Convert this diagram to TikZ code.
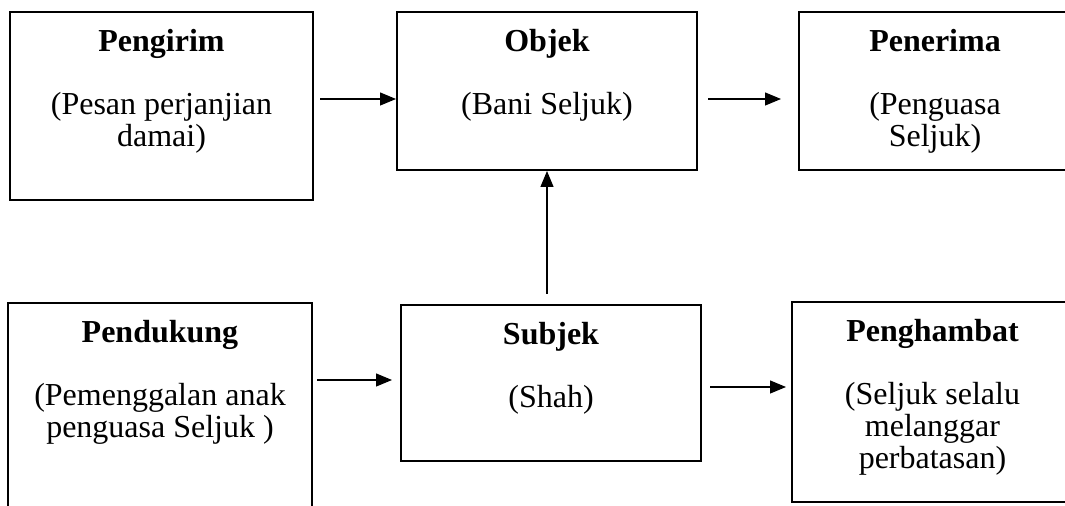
\documentclass[tikz,border=0pt]{standalone}
\usepackage{fontspec}
\setmainfont{Liberation Serif}
\usetikzlibrary{arrows.meta,calc}
\tikzset{
  box/.style={draw, line width=1pt, rectangle, inner sep=0pt},
  txt/.style={inner sep=0pt, anchor=base, font=\fontsize{16}{16}\selectfont},
  arr/.style={line width=0.6pt, -{Triangle[length=8pt,width=6.5pt]}}
}
\newcommand{\boxtext}[2]{\begin{tabular}[t]{@{}c@{}}\textbf{#1}\\[15.5pt]#2\end{tabular}}
\begin{document}
\begin{tikzpicture}[x=0.5pt,y=-0.5pt]
\useasboundingbox (0,0) rectangle (1065,506);
\clip (0,0) rectangle (1065,506);
% boxes
\node[box, minimum width=151.5pt, minimum height=94pt] (pengirim) at (161.5,106) {};
\node[box, minimum width=150pt, minimum height=79pt] (objek) at (547,91) {};
\node[box, minimum width=136pt, minimum height=79pt] (penerima) at (935,91) {};
\node[box, minimum width=152pt, minimum height=108.5pt] (pendukung) at (160,411.5) {};
\node[box, minimum width=150pt, minimum height=78pt] (subjek) at (551,383) {};
\node[box, minimum width=140.5pt, minimum height=100pt] (penghambat) at (932.5,402) {};
% texts
\node[txt] (pengirimT) at ([yshift=-20.5pt]pengirim.north) {\boxtext{Pengirim}{(Pesan perjanjian\\ damai)}};
\node[txt] (objekT) at ([yshift=-20.5pt]objek.north) {\boxtext{Objek}{(Bani Seljuk)}};
\node[txt] (penerimaT) at ([yshift=-20.5pt]penerima.north) {\boxtext{Penerima}{(Penguasa\\ Seljuk)}};
\node[txt] (pendukungT) at ([yshift=-20.5pt]pendukung.north) {\boxtext{Pendukung}{(Pemenggalan anak\\ penguasa Seljuk )}};
\node[txt] (subjekT) at ([yshift=-20.5pt]subjek.north) {\boxtext{Subjek}{(Shah)}};
\node[txt] (penghambatT) at ([yshift=-20.5pt]penghambat.north) {\boxtext{Penghambat}{(Seljuk selalu\\ melanggar\\ perbatasan)}};
% connectors
\draw[arr, shorten <=3pt] (pengirim.east |- 0,99) -- (objek.west |- 0,99);
\draw[arr, shorten <=5pt, shorten >=8.5pt] (objek.east |- 0,99) -- (penerima.west |- 0,99);
\draw[arr, shorten <=5pt] (subjek.north -| objek.south) -- (objek.south);
\draw[arr, shorten <=2pt, shorten >=4pt] (pendukung.east |- 0,380) -- (subjek.west |- 0,380);
\draw[arr, shorten <=4pt, shorten >=2.5pt] (subjek.east |- 0,387) -- (penghambat.west |- 0,387);
\end{tikzpicture}
\end{document}
